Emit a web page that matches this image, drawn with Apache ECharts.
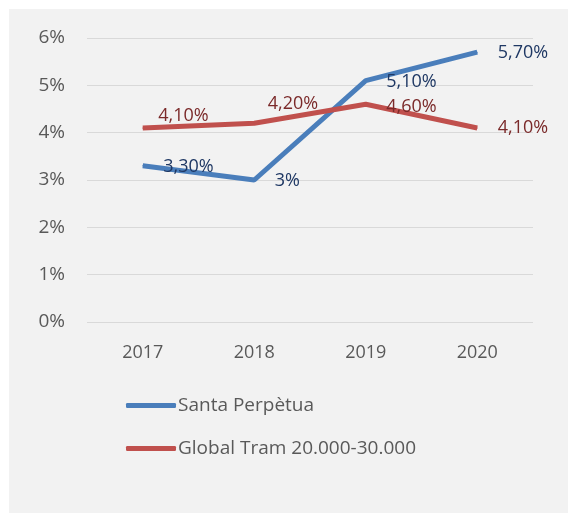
<!DOCTYPE html>
<html>
<head>
<meta charset="utf-8">
<script src="https://cdn.jsdelivr.net/npm/echarts@6/dist/echarts.min.js"></script>
<style>
    html, body { margin: 0; padding: 0; background: #fff; }
    #chart {
        position: absolute;
        left: 9px;
        top: 9px;
        width: 559px;
        height: 504px;
        background: #f2f2f2;
    }
</style>
</head>
<body>
<div id="chart"></div>
<script>
const years = ['2017', '2018', '2019', '2020'];
const santaPerpetua = [3.3, 3.0, 5.1, 5.7];
const globalTram = [4.1, 4.2, 4.6, 4.1];
const seriesNames = ['Santa Perpètua', 'Global Tram 20.000-30.000'];

// label nudges per point (red labels sit a bit above the line on the left)
const redLabelOffsets = [[-5, -12], [-7, -19], [0, 3], [0, 0]];

const fontFamily = '"Open Sans", "Liberation Sans", sans-serif';

function fmt(v) {
    return String(v).replace('.', ',') + (Number.isInteger(v) ? '%' : '0%');
}

var chart = echarts.init(document.getElementById('chart'));

var option = {
    animation: false,
    grid: {
        left: 78,
        right: 35,
        top: 29,
        bottom: 191
    },
    xAxis: {
        type: 'category',
        data: years,
        boundaryGap: true,
        axisLine: { show: false },
        axisTick: { show: false },
        axisLabel: {
            color: '#595959',
            fontSize: 18,
            fontFamily: fontFamily,
            margin: 22
        }
    },
    yAxis: {
        type: 'value',
        min: 0,
        max: 6,
        interval: 1,
        axisLine: { show: false },
        axisTick: { show: false },
        axisLabel: {
            color: '#595959',
            fontSize: 19,
            fontFamily: fontFamily,
            margin: 22,
            formatter: '{value}%'
        },
        splitLine: {
            lineStyle: { color: '#d9d9d9', width: 1 }
        }
    },
    legend: {
        orient: 'vertical',
        left: 117,
        top: 387,
        padding: 0,
        itemWidth: 50,
        itemHeight: 5,
        itemGap: 24,
        icon: 'roundRect',
        textStyle: {
            color: '#595959',
            fontSize: 19,
            fontFamily: fontFamily,
            padding: [0, 0, 0, -3]
        },
        data: seriesNames
    },
    series: [
        {
            name: seriesNames[0],
            type: 'line',
            data: santaPerpetua,
            symbol: 'circle',
            symbolSize: 1,
            showSymbol: true,
            z: 2,
            lineStyle: { color: '#4a7ebb', width: 5 },
            itemStyle: { color: '#4a7ebb' },
            label: {
                show: true,
                position: 'right',
                distance: 20,
                offset: [0, 1],
                color: '#1f3864',
                fontSize: 18,
                fontFamily: fontFamily,
                formatter: function (p) { return fmt(p.value); }
            }
        },
        {
            name: seriesNames[1],
            type: 'line',
            z: 3,
            data: globalTram.map(function (v, i) {
                return { value: v, label: { offset: redLabelOffsets[i] } };
            }),
            symbol: 'circle',
            symbolSize: 1,
            showSymbol: true,
            lineStyle: { color: '#c0504d', width: 5 },
            itemStyle: { color: '#c0504d' },
            label: {
                show: true,
                position: 'right',
                distance: 20,
                color: '#7b2a2a',
                fontSize: 18,
                fontFamily: fontFamily,
                formatter: function (p) { return fmt(p.value); }
            }
        }
    ]
};

chart.setOption(option);
</script>
</body>
</html>
